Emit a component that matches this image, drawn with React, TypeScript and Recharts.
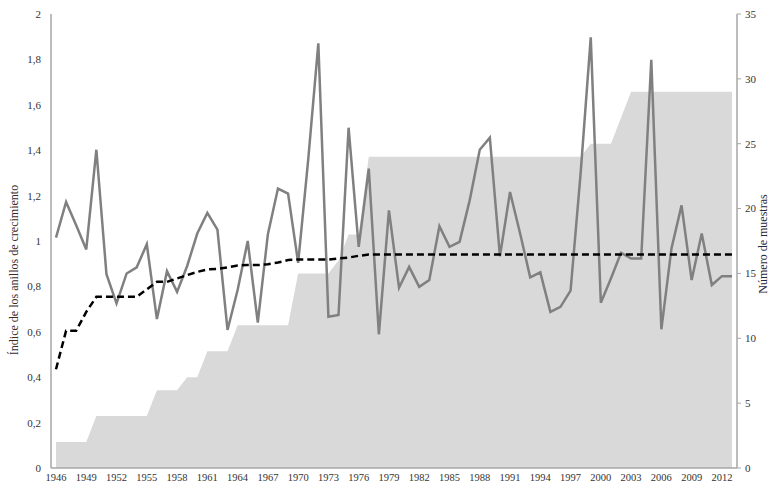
import React from 'react';
import {
  ComposedChart,
  Area,
  Line,
  XAxis,
  YAxis,
} from 'recharts';

const years = [
  1946, 1947, 1948, 1949, 1950, 1951, 1952, 1953, 1954, 1955, 1956, 1957,
  1958, 1959, 1960, 1961, 1962, 1963, 1964, 1965, 1966, 1967, 1968, 1969,
  1970, 1971, 1972, 1973, 1974, 1975, 1976, 1977, 1978, 1979, 1980, 1981,
  1982, 1983, 1984, 1985, 1986, 1987, 1988, 1989, 1990, 1991, 1992, 1993,
  1994, 1995, 1996, 1997, 1998, 1999, 2000, 2001, 2002, 2003, 2004, 2005,
  2006, 2007, 2008, 2009, 2010, 2011, 2012, 2013,
];

// ring-width index (grey line)
const ringIndex = [
  1.015, 1.172, 1.069, 0.963, 1.402, 0.854, 0.725, 0.857, 0.884, 0.986, 0.656, 0.867,
  0.776, 0.89, 1.033, 1.124, 1.05, 0.608, 0.784, 1.0, 0.64, 1.03, 1.231, 1.209,
  0.904, 1.36, 1.871, 0.666, 0.674, 1.499, 0.974, 1.319, 0.589, 1.135, 0.794, 0.886,
  0.798, 0.828, 1.065, 0.974, 0.996, 1.179, 1.402, 1.455, 0.933, 1.216, 1.033, 0.84,
  0.862, 0.688, 0.71, 0.781, 1.3, 1.897, 0.728, 0.835, 0.948, 0.923, 0.923, 1.798,
  0.611, 0.967, 1.157, 0.828, 1.033, 0.806, 0.845, 0.845,
];

// running mean (dashed line)
const runningMean = [
  0.435, 0.605, 0.605, 0.688, 0.754, 0.754, 0.754, 0.754, 0.754, 0.787, 0.82, 0.82,
  0.835, 0.85, 0.864, 0.875, 0.877, 0.884, 0.892, 0.894, 0.894, 0.898, 0.905, 0.916,
  0.919, 0.919, 0.918, 0.918, 0.923, 0.927, 0.935, 0.94, 0.94, 0.94, 0.94, 0.94,
  0.94, 0.94, 0.94, 0.94, 0.94, 0.94, 0.94, 0.94, 0.94, 0.94, 0.94, 0.94,
  0.94, 0.94, 0.94, 0.94, 0.94, 0.94, 0.94, 0.94, 0.94, 0.94, 0.94, 0.94,
  0.94, 0.94, 0.94, 0.94, 0.94, 0.94, 0.94, 0.94,
];

// number of samples (grey area, right axis)
const sampleCount = [
  2, 2, 2, 2, 4, 4, 4, 4, 4, 4, 6, 6,
  6, 7, 7, 9, 9, 9, 11, 11, 11, 11, 11, 11,
  15, 15, 15, 15, 16, 18, 18, 24, 24, 24, 24, 24,
  24, 24, 24, 24, 24, 24, 24, 24, 24, 24, 24, 24,
  24, 24, 24, 24, 24, 25, 25, 25, 27, 29, 29, 29,
  29, 29, 29, 29, 29, 29, 29, 29,
];

const leftTicks = [0, 0.2, 0.4, 0.6, 0.8, 1, 1.2, 1.4, 1.6, 1.8, 2];
const rightTicks = [0, 5, 10, 15, 20, 25, 30, 35];

const chartData = years.map((year, i) => ({
  year,
  index: ringIndex[i],
  mean: runningMean[i],
  samples: sampleCount[i],
}));

const FONT = '"Liberation Serif", "DejaVu Serif", serif';
const AXIS_GREY = '#a6a6a6';

const LeftTitle = () => (
  <text
    x={18}
    y={270}
    transform="rotate(-90 18 270)"
    textAnchor="middle"
    fontFamily={FONT}
    fontSize={12}
    fill="#3d2b1f"
  >
    Índice de los anillos de crecimiento
  </text>
);

const RightTitle = () => (
  <text
    x={767}
    y={244}
    transform="rotate(-90 767 244)"
    textAnchor="middle"
    fontFamily={FONT}
    fontSize={12}
    fill="#1f2a3d"
  >
    Número de muestras
  </text>
);

export default function App() {
  return (
    <div style={{ position: 'absolute', left: 0, top: 0, width: 773, height: 489, background: '#fff' }}>
      <ComposedChart
        width={773}
        height={489}
        data={chartData}
        margin={{ top: 14, right: 0, left: 0, bottom: 0 }}
      >
        <XAxis
          dataKey="year"
          interval={2}
          padding={{ left: 5, right: 5 }}
          height={21}
          tickLine={false}
          tickSize={0}
          tickMargin={6}
          axisLine={{ stroke: AXIS_GREY, strokeWidth: 1.5 }}
          tick={{ fontSize: 10.5, fontFamily: FONT, fill: '#333' }}
        />
        <YAxis
          yAxisId="left"
          width={51}
          domain={[0, 2]}
          ticks={leftTicks}
          tickLine={false}
          tickSize={6}
          tickMargin={4}
          axisLine={{ stroke: AXIS_GREY, strokeWidth: 1.5 }}
          tick={{ fontSize: 11, fontFamily: FONT, fill: '#333' }}
          tickFormatter={(v: number) => String(v).replace('.', ',')}
          label={{ content: () => <LeftTitle /> }}
        />
        <YAxis
          yAxisId="right"
          orientation="right"
          width={36}
          domain={[0, 35]}
          ticks={rightTicks}
          tickSize={4}
          tickMargin={4}
          tickLine={{ stroke: AXIS_GREY }}
          axisLine={{ stroke: AXIS_GREY, strokeWidth: 1.5 }}
          tick={{ fontSize: 11, fontFamily: FONT, fill: '#333' }}
          label={{ content: () => <RightTitle /> }}
        />
        <Area
          yAxisId="right"
          type="linear"
          dataKey="samples"
          stroke="none"
          fill="#d9d9d9"
          fillOpacity={1}
          isAnimationActive={false}
        />
        <Line
          yAxisId="left"
          type="linear"
          dataKey="index"
          stroke="#808080"
          strokeWidth={2.5}
          dot={false}
          isAnimationActive={false}
        />
        <Line
          yAxisId="left"
          type="linear"
          dataKey="mean"
          stroke="#000"
          strokeWidth={2.5}
          strokeDasharray="7 4"
          dot={false}
          isAnimationActive={false}
        />
      </ComposedChart>
    </div>
  );
}
